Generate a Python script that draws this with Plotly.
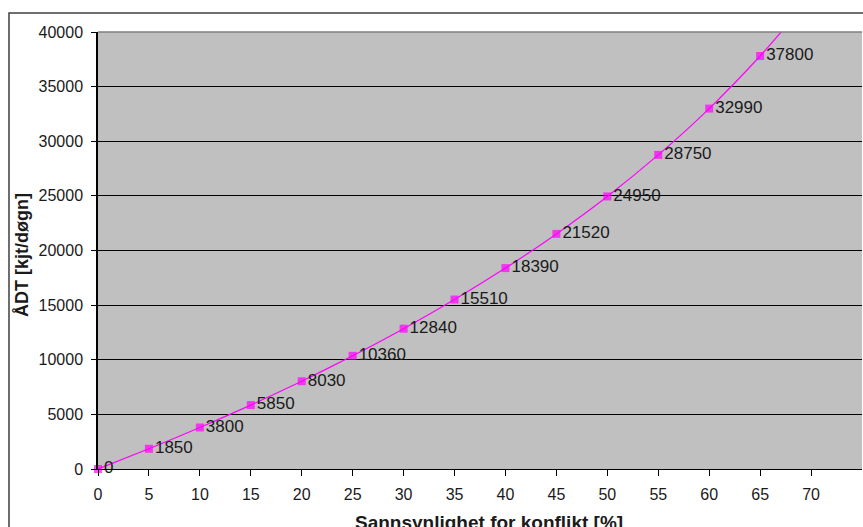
import plotly.graph_objects as go

x_vals = [0, 5, 10, 15, 20, 25, 30, 35, 40, 45, 50, 55, 60, 65, 70]
adt = [0, 1850, 3800, 5850, 8030, 10360, 12840, 15510, 18390, 21520, 24950, 28750, 32990, 37800, 43200]
x_ticks = [0, 5, 10, 15, 20, 25, 30, 35, 40, 45, 50, 55, 60, 65, 70]
y_ticks = [0, 5000, 10000, 15000, 20000, 25000, 30000, 35000, 40000]
y_max = 40000
labels = [str(v) if v <= y_max else "" for v in adt]
sizes = [8 if v <= y_max else 0 for v in adt]

fig = go.Figure()
fig.add_trace(go.Scatter(
    x=x_vals, y=adt, mode="lines+markers+text",
    text=labels, textposition="middle right",
    textfont=dict(family="Liberation Sans, Arial", size=17, color="#1a1a1a"),
    line=dict(color="#FF00FF", width=1.2, shape="spline", smoothing=0.6),
    marker=dict(symbol="square", size=sizes, color="#FF00FF", line=dict(width=0)),
    cliponaxis=False, showlegend=False, hoverinfo="x+y",
))

fig.update_layout(
    width=863, height=527,
    margin=dict(l=98, r=1, t=32, b=58),
    paper_bgcolor="white", plot_bgcolor="#C0C0C0",
    font=dict(family="Liberation Sans, Arial", size=16, color="#1a1a1a"),
    xaxis=dict(range=[0, 75], tickvals=x_ticks, ticktext=[str(v) for v in x_ticks],
               ticks="outside", ticklen=6, ticklabelstandoff=5,
               tickcolor="black", showline=True, linecolor="black", linewidth=1,
               showgrid=False, zeroline=False, tickfont=dict(size=16)),
    yaxis=dict(range=[0, y_max], tickvals=y_ticks, ticktext=[str(v) for v in y_ticks],
               ticks="outside", ticklen=5, ticklabelstandoff=5,
               tickcolor="black", showline=True, linecolor="black", linewidth=1.5,
               showgrid=True, gridcolor="black", gridwidth=1.2, zeroline=False,
               tickfont=dict(size=16)),
    shapes=[
        dict(type="line", xref="paper", yref="paper", x0=0, x1=1, y0=1, y1=1,
             line=dict(color="#808080", width=1.5)),
        dict(type="rect", xref="paper", yref="paper", x0=-0.1165, x1=1.05,
             y0=-0.3, y1=1.0435, line=dict(color="#404040", width=1.5)),
    ],
    annotations=[
        dict(text="<b>Sannsynlighet for konflikt [%]</b>", xref="paper", yref="paper",
             x=0.512, y=-0.1213, xanchor="center", yanchor="middle", showarrow=False,
             font=dict(size=19, color="#1a1a1a")),
        dict(text="<b>ÅDT [kjt/døgn]</b>", xref="paper", yref="paper",
             x=-0.0995, y=0.4897, xanchor="center", yanchor="middle", showarrow=False,
             textangle=-90, font=dict(size=18, color="#1a1a1a")),
    ],
)

fig.write_html("out.html", config={"displayModeBar": False},
               post_script="document.body.style.margin='0';document.body.style.overflow='hidden';")
